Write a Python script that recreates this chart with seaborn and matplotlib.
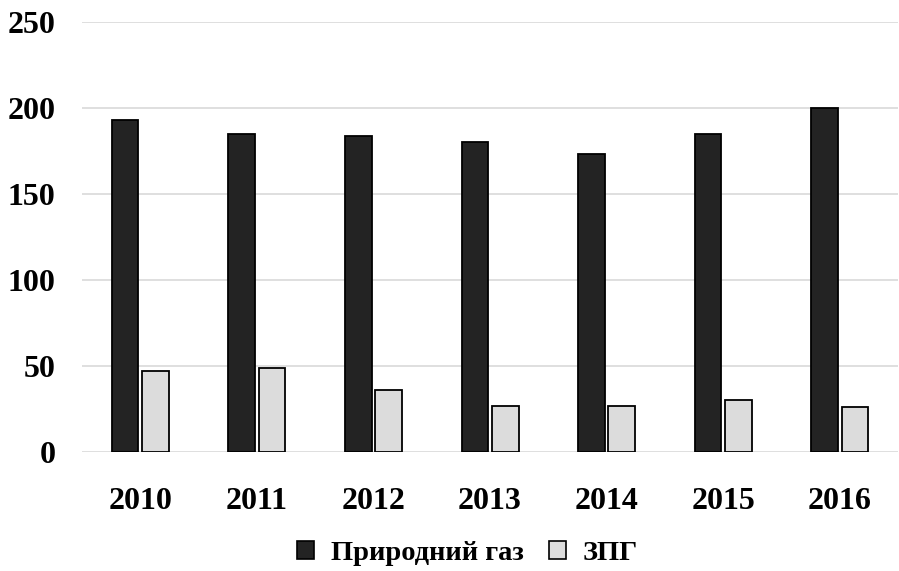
import matplotlib
matplotlib.use("Agg")
import matplotlib.pyplot as plt
import seaborn as sns
import pandas as pd
from matplotlib.patches import Patch

years = ["2010", "2011", "2012", "2013", "2014", "2015", "2016"]
natural_gas = [193, 185, 184, 180, 173, 185, 200]
lpg = [47, 49, 36, 27, 27, 30, 26]
series_names = ["Природний газ", "ЗПГ"]
colors = ["#232323", "#dcdcdc"]

df = pd.DataFrame({
    "year": years * 2,
    "value": natural_gas + lpg,
    "series": [series_names[0]] * len(years) + [series_names[1]] * len(years),
})

sns.set_theme(style="white")
plt.rcParams["font.family"] = ["Liberation Serif", "DejaVu Serif"]
plt.rcParams["font.weight"] = "bold"
plt.rcParams["text.color"] = "black"
plt.rcParams["xtick.color"] = "black"
plt.rcParams["ytick.color"] = "black"

fig = plt.figure(figsize=(8.99, 5.71), dpi=100)
ax = fig.add_axes([0.0912, 0.2084, 0.9078, 0.7531])

sns.barplot(data=df, x="year", y="value", hue="series", palette=colors,
            width=0.52, gap=0.12, edgecolor="black", linewidth=1.3,
            legend=False, ax=ax, zorder=3)

ax.set_ylim(0, 250)
ax.set_xlim(-0.5, len(years) - 0.5)
ax.set_yticks([0, 50, 100, 150, 200, 250])
ax.yaxis.grid(True, color="#d9d9d9", linewidth=1.2, zorder=0)
ax.xaxis.grid(False)
for s in ax.spines.values():
    s.set_visible(False)
ax.set_xlabel("")
ax.set_ylabel("")
ax.tick_params(axis="y", length=0, pad=19, labelsize=23, labelcolor="black")
ax.tick_params(axis="x", length=0, pad=25, labelsize=23, labelcolor="black")
for lbl in ax.get_xticklabels() + ax.get_yticklabels():
    lbl.set_fontweight("bold")

handles = [Patch(facecolor=c, edgecolor="black", linewidth=1.2) for c in colors]
fig.legend(handles, series_names, loc="center", bbox_to_anchor=(0.520, 0.030),
           ncol=2, frameon=False, handlelength=0.58, handleheight=0.58,
           handletextpad=0.6, columnspacing=0.9,
           prop={"family": "Liberation Serif", "weight": "bold", "size": 20.5})

fig.savefig("out.png", dpi=100)
